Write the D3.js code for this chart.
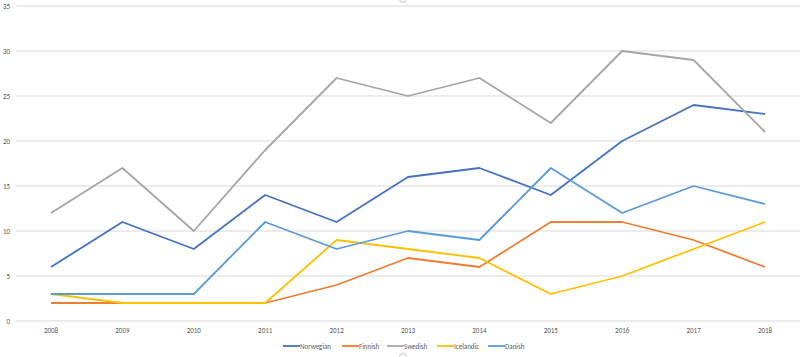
<!DOCTYPE html>
<html><head><meta charset="utf-8">
<script src="https://cdn.jsdelivr.net/npm/d3@7"></script>
<style>body{margin:0;background:#fff}svg{display:block;font-family:Calibri,"Liberation Sans",Arial,sans-serif}</style>
</head><body><svg id="c" width="800" height="357"></svg>
<script>
const years = ["2008","2009","2010","2011","2012","2013","2014","2015","2016","2017","2018"];
const seriesNames = ["Norwegian","Finnish","Swedish","Icelandic","Danish"];
const norwegian = [6,11,8,14,11,16,17,14,20,24,23];
const finnish   = [2,2,2,2,4,7,6,11,11,9,6];
const swedish   = [12,17,10,19,27,25,27,22,30,29,21];
const icelandic = [3,2,2,2,9,8,7,3,5,8,11];
const danish    = [3,3,3,11,8,10,9,17,12,15,13];
const yTicks = [0,5,10,15,20,25,30,35];
const colors = ["#4472C4","#ED7D31","#A5A5A5","#FFC000","#5B9BD5"];
const data = [norwegian, finnish, swedish, icelandic, danish];

const svg = d3.select("#c");
const x = d3.scalePoint().domain(years).range([51, 765]);
const y = d3.scaleLinear().domain([0,35]).range([321, 6]);

// gridlines
svg.append("g").selectAll("line").data(yTicks).join("line")
  .attr("x1",16).attr("x2",800).attr("y1",d=>y(d)).attr("y2",d=>y(d))
  .attr("stroke","#d9d9d9").attr("stroke-width",1);
svg.append("g").selectAll("text").data(yTicks).join("text")
  .attr("x",10).attr("y",d=>y(d)+2.5).attr("text-anchor","end")
  .attr("font-size",7).attr("fill","#595959").text(d=>d);
svg.append("g").selectAll("text").data(years).join("text")
  .attr("x",d=>x(d)).attr("y",333).attr("text-anchor","middle")
  .attr("font-size",7).attr("fill","#595959").text(d=>d);

const line = d3.line().x((d,i)=>x(years[i])).y(d=>y(d));
// draw order: Norwegian, Finnish, Swedish, Icelandic, Danish
data.forEach((s,k)=>{
  svg.append("path").datum(s).attr("d",line).attr("fill","none")
    .attr("stroke",colors[k]).attr("stroke-width",1.8).attr("stroke-linejoin","round");
});

// legend
const legX = [283,342,387,437,488];
const lg = svg.append("g");
seriesNames.forEach((n,k)=>{
  lg.append("line").attr("x1",legX[k]).attr("x2",legX[k]+17).attr("y1",346).attr("y2",346)
    .attr("stroke",colors[k]).attr("stroke-width",1.8);
  lg.append("text").attr("x",legX[k]+17).attr("y",348.5).attr("font-size",7)
    .attr("fill","#595959").text(n);
});
// selection handles
svg.append("circle").attr("cx",403).attr("cy",-1).attr("r",3.5).attr("fill","#fff").attr("stroke","#c8c8c8");
svg.append("circle").attr("cx",403).attr("cy",357).attr("r",3.5).attr("fill","#fff").attr("stroke","#c8c8c8");
</script></body></html>
